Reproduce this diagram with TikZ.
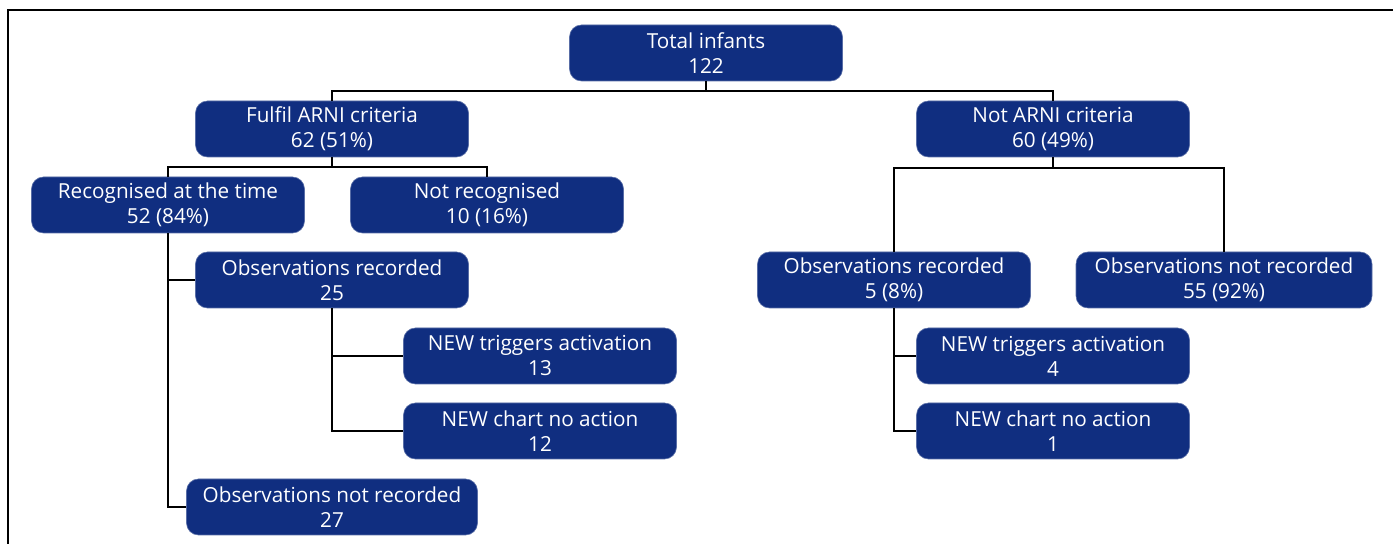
\documentclass[tikz,border=0pt]{standalone}
\usepackage{fontspec}
\setmainfont{Open Sans}
\definecolor{boxblue}{RGB}{16,46,128}
\begin{document}
\begin{tikzpicture}[x=0.5pt,y=-0.5pt,
  box/.style={fill=boxblue, draw=boxblue!70!white, line width=0.3pt, rounded corners=6pt,
    text=white, align=center, minimum width=136.5pt, minimum height=28pt, inner sep=0pt,
    font=\fontsize{10.35}{12.5}\selectfont},
  conn/.style={line width=1.1pt, black}]
\useasboundingbox (0,0) rectangle (1393,544);
\draw[line width=1pt] (8,560) -- (8,10) -- (1400,10);
% nodes
\node[box] (total) at (706,53) {Total infants\\122};
\node[box] (fulfil) at (332,129) {Fulfil ARNI criteria\\62 (51\%)};
\node[box] (notarni) at (1053,129) {Not ARNI criteria\\60 (49\%)};
\node[box] (recog) at (168,205) {Recognised at the time\\52 (84\%)};
\node[box] (notrecog) at (487,205) {Not recognised\\10 (16\%)};
\node[box] (obsrecL) at (332,280) {Observations recorded\\25};
\node[box] (trigL) at (540,356) {NEW triggers activation\\13};
\node[box] (noactL) at (540,431) {NEW chart no action\\12};
\node[box, minimum width=145.5pt] (obsnotL) at (332,507) {Observations not recorded\\27};
\node[box] (obsrecR) at (894,280) {Observations recorded\\5 (8\%)};
\node[box, minimum width=148pt] (obsnotR) at (1224,280) {Observations not recorded\\55 (92\%)};
\node[box] (trigR) at (1053,356) {NEW triggers activation\\4};
\node[box] (noactR) at (1053,431) {NEW chart no action\\1};
% junctions
\coordinate (j0) at (706,91);
\coordinate (j1) at (332,167);
\coordinate (j2) at (1053,168);
% connectors
\draw[conn] (total.south) -- (j0) -| (fulfil.north);
\draw[conn] (j0) -| (notarni.north);
\draw[conn] (fulfil.south) -- (j1) -| (recog.north);
\draw[conn] (j1) -| (notrecog.north);
\draw[conn] (recog.south) |- (obsrecL.west);
\draw[conn] (recog.south) |- (obsnotL.west);
\draw[conn] (obsrecL.south) |- (trigL.west);
\draw[conn] (obsrecL.south) |- (noactL.west);
\draw[conn] (notarni.south) -- (j2) -| (obsrecR.north);
\draw[conn] (j2) -| (obsnotR.north);
\draw[conn] (obsrecR.south) |- (trigR.west);
\draw[conn] (obsrecR.south) |- (noactR.west);
\end{tikzpicture}
\end{document}
